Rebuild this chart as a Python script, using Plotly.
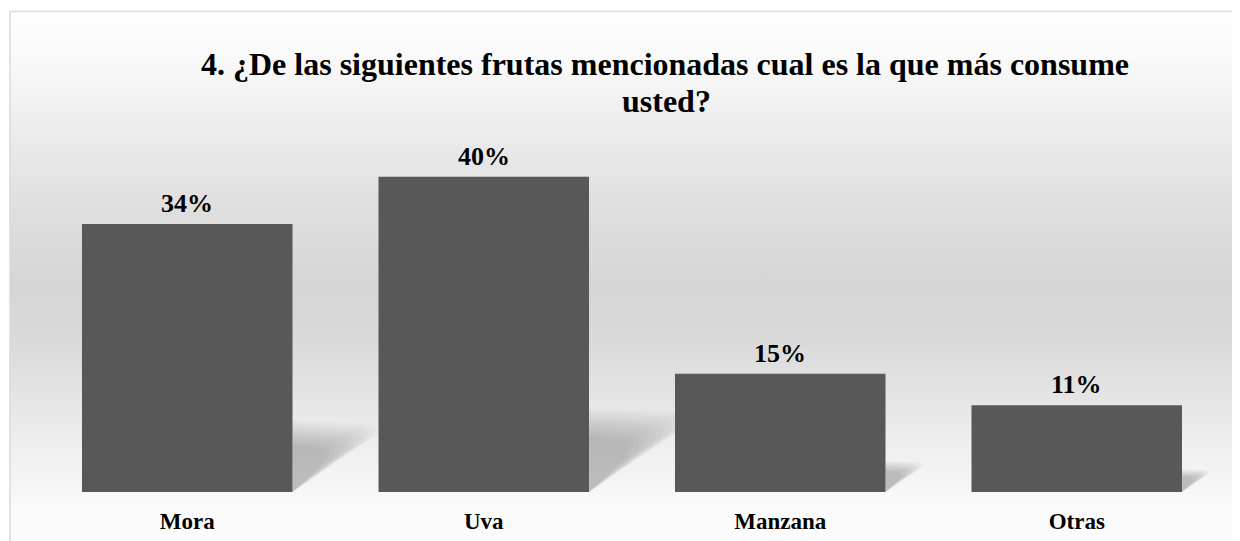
import base64
import plotly.graph_objects as go

# ---- data ----
categories = ["Mora", "Uva", "Manzana", "Otras"]
values = [34, 40, 15, 11]
label_texts = [f"{v}%" for v in values]
title_line1 = "4. ¿De las siguientes frutas mencionadas cual es la que más consume"
title_line2 = "usted?"

# ---- geometry (pixels, reference coords; page body has 8px offset) ----
OFF = 8
W, H = 1240, 541
ml = 39 - OFF
pw = 1186
mr = W - ml - pw
mt = 150 - OFF
base_fig = 492 - OFF
mb = H - base_fig
ph = base_fig - mt
ymax = 43.4
FONT = '"Liberation Serif", "Times New Roman", Tinos, serif'

def px_to_paper_x(px):
    return (px - OFF - ml) / pw

def px_to_paper_y(py):
    return (base_fig - (py - OFF)) / ph

xs = list(range(len(categories)))
bar_w = 0.71

fig = go.Figure()
fig.add_trace(go.Bar(
    x=xs, y=values, width=bar_w,
    marker=dict(color="#585858", line=dict(width=0)),
    hoverinfo="skip",
))

# ---- background gradient (chart area) ----
top_px, bot_px = 11, 560
stops = [(11, "#ffffff"), (60, "#f9f9f9"), (130, "#ececec"), (200, "#e0e0e0"),
         (280, "#d6d6d6"), (330, "#d8d8d8"), (390, "#e3e3e3"), (440, "#eeeeee"),
         (480, "#f4f4f4"), (505, "#fafafa"), (560, "#fcfcfc")]
stop_xml = "".join(
    f"<stop offset='{(y - top_px) / (bot_px - top_px):.4f}' stop-color='{c}'/>" for y, c in stops)
svg = ("<svg xmlns='http://www.w3.org/2000/svg' width='100' height='100' preserveAspectRatio='none'>"
       "<defs><linearGradient id='g' x1='0' y1='0' x2='0' y2='1'>" + stop_xml +
       "</linearGradient></defs><rect width='100' height='100' fill='url(#g)'/></svg>")
src = "data:image/svg+xml;base64," + base64.b64encode(svg.encode()).decode()
fig.add_layout_image(dict(
    source=src, xref="paper", yref="paper",
    x=px_to_paper_x(10), y=px_to_paper_y(top_px),
    sizex=(1270 - 10) / pw, sizey=(bot_px - top_px) / ph,
    xanchor="left", yanchor="top", sizing="stretch", layer="below",
))

shapes = []
# chart border
shapes.append(dict(type="rect", xref="paper", yref="paper",
                   x0=px_to_paper_x(10), x1=px_to_paper_x(1280),
                   y0=px_to_paper_y(580), y1=px_to_paper_y(11.5),
                   line=dict(color="#d9d9d9", width=1.5), fillcolor="rgba(0,0,0,0)",
                   layer="below"))

# soft perspective shadows behind each bar (layered for a blur effect)
x_per_px = len(categories) / pw
y_per_px = ymax / ph
n_layers = 12
for i, v in enumerate(values):
    xr = i + bar_w / 2
    hpx = v / y_per_px
    dx = 0.26 * hpx * x_per_px
    for j in range(n_layers):
        t = j / (n_layers - 1)          # 0 = outer, 1 = inner
        k = 1.3 - 0.8 * t
        hk = 0.265 - 0.09 * t
        d = dx * k
        path = (f"M {xr},0 L {xr},{hk * v} L {xr + 0.85 * d},{(hk - 0.01) * v} "
                f"Q {xr + 1.05 * d},{(hk - 0.035) * v} {xr + 0.85 * d},{(hk - 0.07) * v} Z")
        shapes.append(dict(type="path", xref="x", yref="y", path=path,
                           fillcolor="rgba(0,0,0,0.02)", line=dict(width=0), layer="below"))

annotations = []
for i, v in enumerate(values):
    annotations.append(dict(x=i, y=v, xref="x", yref="y", text=f"<b>{label_texts[i]}</b>",
                            showarrow=False, yanchor="bottom", yshift=4,
                            font=dict(family=FONT, size=26, color="#000000")))
annotations.append(dict(x=px_to_paper_x(665), y=px_to_paper_y(79), xref="paper", yref="paper",
                        text=f"<b>{title_line1}</b>", showarrow=False, yanchor="bottom", yshift=-4.5,
                        font=dict(family=FONT, size=32, color="#000000")))
annotations.append(dict(x=px_to_paper_x(666), y=px_to_paper_y(114), xref="paper", yref="paper",
                        text=f"<b>{title_line2}</b>", showarrow=False, yanchor="bottom", yshift=-7.5,
                        font=dict(family=FONT, size=32, color="#000000")))

fig.update_layout(
    width=W, height=H,
    margin=dict(l=ml, r=mr, t=mt, b=mb, autoexpand=False),
    paper_bgcolor="#ffffff", plot_bgcolor="rgba(0,0,0,0)",
    showlegend=False, bargap=0.29,
    shapes=shapes, annotations=annotations,
    xaxis=dict(range=[-0.5, len(categories) - 0.5], tickvals=xs,
               ticktext=[f"<b>{c}</b>" for c in categories],
               tickfont=dict(family=FONT, size=23, color="#000000"),
               showgrid=False, zeroline=False, showline=False,
               ticks="outside", ticklen=8, tickcolor="rgba(0,0,0,0)", fixedrange=True),
    yaxis=dict(range=[0, ymax], visible=False, showgrid=False, zeroline=False, fixedrange=True),
)

fig.write_html("out.html")
